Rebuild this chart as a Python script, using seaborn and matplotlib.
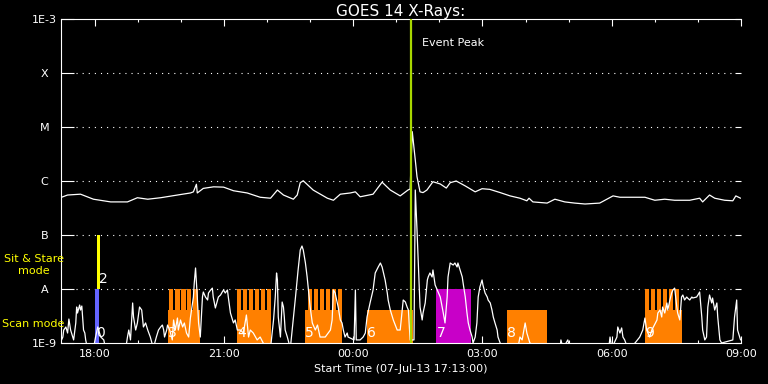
import numpy as np
import pandas as pd
import matplotlib
matplotlib.use("Agg")
import matplotlib.pyplot as plt
import seaborn as sns
from matplotlib.ticker import FixedLocator, MultipleLocator, NullLocator

# ---------------- data (hours relative to 00:00 UT 08-Jul-13) ----------------
long_hours = [-6.77, -6.63, -6.33, -6.03, -5.63, -5.24, -5.01, -4.77, -4.47, -4.08,
              -3.78, -3.71, -3.64, -3.62, -3.48, -3.24, -3.01, -2.78, -2.46, -2.16,
              -1.92, -1.76, -1.62, -1.39, -1.30, -1.23, -1.16, -0.93, -0.60, -0.46,
              -0.30, -0.07, 0.05, 0.16, 0.46, 0.67, 0.86, 1.09, 1.27, 1.32,
              1.37, 1.44, 1.48, 1.55, 1.62, 1.71, 1.85, 2.02, 2.16, 2.25,
              2.39, 2.60, 2.83, 2.99, 3.17, 3.41, 3.64, 3.87, 4.03, 4.08,
              4.17, 4.50, 4.68, 4.91, 5.14, 5.38, 5.72, 6.03, 6.19, 6.54,
              6.77, 7.00, 7.23, 7.46, 7.81, 8.04, 8.11, 8.27, 8.39, 8.62,
              8.81, 8.88, 8.99]
long_flux = [5.0e-7, 5.5e-7, 5.7e-7, 4.6e-7, 4.1e-7, 4.1e-7, 4.9e-7, 4.6e-7, 4.9e-7, 5.5e-7,
             6.0e-7, 6.3e-7, 8.7e-7, 6.0e-7, 7.3e-7, 7.8e-7, 7.7e-7, 6.6e-7, 6.0e-7, 5.0e-7,
             4.8e-7, 6.8e-7, 5.5e-7, 4.6e-7, 5.5e-7, 9.3e-7, 1.01e-6, 6.8e-7, 4.8e-7, 4.4e-7,
             5.7e-7, 6.0e-7, 6.3e-7, 5.1e-7, 5.7e-7, 9.5e-7, 6.8e-7, 5.3e-7, 6.8e-7, 7.1e-7,
             8.2e-6, 2.45e-6, 1.2e-6, 6.3e-7, 6.1e-7, 6.8e-7, 9.7e-7, 8.8e-7, 7.4e-7, 9.3e-7,
             1.0e-6, 8.1e-7, 6.3e-7, 7.2e-7, 7.0e-7, 6.1e-7, 5.3e-7, 4.8e-7, 4.3e-7, 4.8e-7,
             4.1e-7, 3.9e-7, 4.6e-7, 4.1e-7, 3.9e-7, 3.75e-7, 3.9e-7, 5.3e-7, 5.0e-7, 5.0e-7,
             5.0e-7, 4.4e-7, 4.6e-7, 4.4e-7, 4.4e-7, 4.8e-7, 4.1e-7, 5.5e-7, 4.8e-7, 4.4e-7,
             4.3e-7, 5.3e-7, 4.8e-7]

short_hours = [-6.77, -6.74, -6.72, -6.67, -6.63, -6.60, -6.56, -6.51, -6.49, -6.44,
               -6.42, -6.40, -6.35, -6.33, -6.30, -6.26, -6.23, -6.21, -6.17, -6.03,
               -5.98, -5.93, -5.91, -5.86, -5.79, -5.75, -5.28, -5.24, -5.21, -5.17,
               -5.12, -5.10, -5.05, -5.01, -4.96, -4.91, -4.87, -4.82, -4.77, -4.71,
               -4.64, -4.57, -4.52, -4.47, -4.43, -4.40, -4.38, -4.33, -4.31, -4.26,
               -4.20, -4.17, -4.13, -4.08, -4.06, -4.01, -3.96, -3.92, -3.87, -3.82,
               -3.78, -3.71, -3.69, -3.66, -3.62, -3.59, -3.55, -3.50, -3.48, -3.43,
               -3.38, -3.36, -3.31, -3.27, -3.25, -3.20, -3.15, -3.13, -3.08, -3.04,
               -3.01, -2.97, -2.92, -2.90, -2.85, -2.78, -2.74, -2.69, -2.62, -2.55,
               -2.48, -2.43, -2.39, -2.32, -2.23, -2.16, -2.09, -2.02, -1.92, -1.85,
               -1.81, -1.78, -1.76, -1.74, -1.69, -1.65, -1.62, -1.60, -1.58, -1.53,
               -1.46, -1.34, -1.28, -1.23, -1.19, -1.16, -1.11, -1.07, -1.04, -1.00,
               -0.95, -0.88, -0.83, -0.77, -0.65, -0.53, -0.49, -0.46, -0.42, -0.37,
               -0.35, -0.30, -0.26, -0.23, -0.19, -0.14, -0.12, 0.02, 0.05, 0.07,
               0.16, 0.23, 0.28, 0.32, 0.39, 0.46, 0.51, 0.58, 0.63, 0.67,
               0.74, 0.79, 0.81, 0.86, 0.93, 1.02, 1.09, 1.16, 1.21, 1.25,
               1.28, 1.32, 1.41, 1.44, 1.48, 1.51, 1.53, 1.55, 1.60, 1.62,
               1.67, 1.72, 1.74, 1.78, 1.83, 1.85, 1.90, 1.95, 2.02, 2.09,
               2.13, 2.18, 2.20, 2.25, 2.32, 2.36, 2.41, 2.43, 2.48, 2.53,
               2.55, 2.60, 2.64, 2.67, 2.71, 2.76, 2.78, 2.83, 2.87, 2.90,
               2.94, 2.99, 3.01, 3.06, 3.11, 3.13, 3.18, 3.22, 3.25, 3.29,
               3.34, 3.36, 3.41, 3.52, 3.82, 3.87, 3.92, 3.99, 4.03, 4.10,
               4.33, 4.80, 4.82, 4.87, 4.98, 5.03, 5.93, 5.96, 6.00, 6.12,
               6.14, 6.19, 6.23, 6.26, 6.30, 6.37, 6.54, 6.65, 6.72, 6.77,
               6.81, 6.88, 6.93, 7.05, 7.07, 7.12, 7.16, 7.18, 7.23, 7.28,
               7.30, 7.35, 7.39, 7.42, 7.46, 7.51, 7.53, 7.58, 7.62, 7.65,
               7.69, 7.74, 7.76, 7.81, 7.86, 7.88, 7.97, 8.00, 8.04, 8.09,
               8.11, 8.16, 8.20, 8.23, 8.27, 8.32, 8.34, 8.39, 8.44, 8.46,
               8.51, 8.55, 8.81, 8.85, 8.90, 8.92, 8.97, 8.99]
short_flux = [1.14e-9, 1.29e-9, 1.74e-9, 1.98e-9, 1.53e-9, 2.78e-9, 1.74e-9, 1.29e-9, 1.14e-9, 2.35e-9,
              4.64e-9, 3.59e-9, 5.05e-9, 4.08e-9, 4.84e-9, 1.74e-9, 1.53e-9, 1.14e-9, 8e-10, 8e-10,
              1.29e-9, 1.98e-9, 1.74e-9, 1.29e-9, 1.14e-9, 8e-10, 8e-10, 1.29e-9, 1.74e-9, 1.14e-9,
              5.51e-9, 3.03e-9, 1.74e-9, 2.35e-9, 4.64e-9, 4.08e-9, 1.98e-9, 2.35e-9, 1.74e-9, 1.29e-9,
              8e-10, 1.29e-9, 1.74e-9, 1.98e-9, 2.15e-9, 1.74e-9, 1.29e-9, 1.74e-9, 2.15e-9, 1.74e-9,
              1.14e-9, 2.67e-9, 1.74e-9, 2.90e-9, 1.74e-9, 2.67e-9, 1.98e-9, 2.35e-9, 1.53e-9, 1.29e-9,
              2.90e-9, 7.11e-9, 1.29e-8, 2.45e-8, 7.11e-9, 2.35e-9, 1.29e-9, 7.11e-9, 8.80e-9, 7.11e-9,
              6.26e-9, 8.43e-9, 9.58e-9, 1.04e-8, 7.11e-9, 4.45e-9, 6.26e-9, 7.11e-9, 7.74e-9, 8.80e-9,
              9.58e-9, 8.43e-9, 9.58e-9, 7.11e-9, 3.59e-9, 2.35e-9, 2.67e-9, 1.74e-9, 1.74e-9, 1.53e-9,
              3.30e-9, 1.29e-9, 1.74e-9, 1.53e-9, 1.14e-9, 1.29e-9, 1.0e-9, 8e-10, 8e-10, 2.67e-9,
              7.11e-9, 1.98e-8, 1.47e-8, 3.03e-9, 1.29e-9, 5.74e-9, 4.64e-9, 3.03e-9, 1.74e-9, 1.29e-9,
              8e-10, 7.11e-9, 2.25e-8, 5.27e-8, 6.25e-8, 5.27e-8, 3.03e-8, 1.67e-8, 9.58e-9, 4.64e-9,
              2.35e-9, 1.74e-9, 2.15e-9, 1.29e-9, 1.29e-9, 1.74e-9, 2.67e-9, 9.58e-9, 8.43e-9, 5.51e-9,
              4.64e-9, 2.67e-9, 2.35e-9, 1.74e-9, 1.29e-9, 1.53e-9, 1.29e-9, 1.14e-9, 9.58e-9, 1.14e-9,
              1.14e-9, 1.29e-9, 1.53e-9, 3.03e-9, 5.51e-9, 9.58e-9, 1.98e-8, 2.56e-8, 3.03e-8, 2.56e-8,
              1.47e-8, 8.43e-9, 6.26e-9, 4.08e-9, 2.67e-9, 1.74e-9, 1.74e-9, 6.26e-9, 5.74e-9, 4.64e-9,
              4.08e-9, 1.14e-9, 1.14e-9, 6.81e-7, 1.24e-7, 3.03e-8, 1.09e-8, 4.64e-9, 2.67e-9, 3.59e-9,
              5.51e-9, 1.47e-8, 1.67e-8, 1.98e-8, 1.67e-8, 2.25e-8, 1.19e-8, 9.58e-9, 7.11e-9, 3.59e-9,
              2.35e-9, 7.11e-9, 1.67e-8, 3.03e-8, 2.78e-8, 3.03e-8, 2.56e-8, 3.03e-8, 2.25e-8, 1.67e-8,
              1.29e-8, 7.11e-9, 3.59e-9, 2.35e-9, 1.74e-9, 1.29e-9, 1.0e-9, 1.29e-9, 2.35e-9, 7.11e-9,
              1.09e-8, 1.47e-8, 1.19e-8, 8.43e-9, 7.11e-9, 6.26e-9, 5.51e-9, 4.08e-9, 3.03e-9, 2.35e-9,
              1.74e-9, 1.29e-9, 1.0e-9, 8e-10, 8e-10, 1.29e-9, 1.14e-9, 2.35e-9, 1.53e-9, 1.0e-9,
              8e-10, 8e-10, 1.14e-9, 8e-10, 1.14e-9, 8e-10, 8e-10, 1.29e-9, 8e-10, 1.29e-9,
              1.98e-9, 1.53e-9, 1.90e-9, 1.29e-9, 1.14e-9, 8e-10, 1.0e-9, 1.29e-9, 1.74e-9, 2.90e-9,
              1.74e-9, 1.29e-9, 1.74e-9, 2.67e-9, 3.59e-9, 4.08e-9, 3.03e-9, 4.64e-9, 3.59e-9, 5.51e-9,
              4.08e-9, 6.26e-9, 8.43e-9, 9.58e-9, 1.04e-8, 4.64e-9, 3.59e-9, 2.67e-9, 7.11e-9, 7.74e-9,
              6.26e-9, 7.11e-9, 6.81e-9, 6.26e-9, 7.11e-9, 6.81e-9, 7.11e-9, 7.74e-9, 8.80e-9, 3.03e-9,
              1.74e-9, 1.14e-9, 1.29e-9, 4.64e-9, 7.74e-9, 5.51e-9, 6.81e-9, 4.08e-9, 5.51e-9, 3.03e-9,
              1.14e-9, 1.0e-9, 1.14e-9, 3.03e-9, 6.26e-9, 1.74e-9, 1.29e-9, 1.14e-9]

# observation blocks (hours)
scan_labels = ["3", "4", "5", "6", "8", "9"]
scan_start = [-4.31, -2.69, -1.11, 0.32, 3.57, 6.77]
scan_end = [-3.55, -1.90, -0.25, 1.39, 4.50, 7.62]
scan_level = 4.1e-9
scan_teeth = [[-4.28, -4.13, -3.99, -3.86, -3.71],
              [-2.70, -2.56, -2.42, -2.28, -2.14, -2.00],
              [-1.06, -0.92, -0.78, -0.64, -0.50, -0.36],
              [],
              [],
              [6.77, 6.91, 7.05, 7.18, 7.32, 7.46]]
tooth_width = 0.10

other_labels = ["0", "2", "7"]
other_start = [-5.99, -5.94, 1.92]
other_end = [-5.91, -5.88, 2.73]
other_low = [1e-9, 1e-8, 1e-9]
other_high = [1e-8, 1e-7, 1e-8]
other_colors = ["#6464ff", "#ffff00", "#c800c8"]

event_peak = 1.35
level_values = [1e-9, 1e-8, 1e-7, 1e-6, 1e-5, 1e-4, 1e-3]
level_labels = ["1E-9", "A", "B", "C", "M", "X", "1E-3"]
xtick_hours = [-6, -3, 0, 3, 6, 9]
xtick_labels = ["18:00", "21:00", "00:00", "03:00", "06:00", "09:00"]
x_start, x_end = -6.783, 9.0

# ---------------- style ----------------
sns.set_theme(style="dark", rc={
    "axes.facecolor": "black", "figure.facecolor": "black",
    "axes.edgecolor": "white", "text.color": "white",
    "axes.labelcolor": "white", "xtick.color": "white", "ytick.color": "white",
    "lines.scale_dashes": False, "axes.grid": False,
})
plt.rcParams["font.family"] = ["DejaVu Sans"]

fig = plt.figure(figsize=(7.68, 3.84), dpi=100, facecolor="black")
ax = fig.add_axes([61 / 768, 41 / 384, 680 / 768, 324 / 384])
ax.set_facecolor("black")
ax.set_yscale("log")

orange = "#ff8000"
# scan-mode blocks
for s, e in zip(scan_start, scan_end):
    ax.bar(s, scan_level - 1e-9, width=e - s, bottom=1e-9, align="edge",
           color=orange, linewidth=0, zorder=1)
for teeth in scan_teeth:
    for t in teeth:
        ax.bar(t, 1e-8 - 1e-9, width=tooth_width, bottom=1e-9, align="edge",
               color=orange, linewidth=0, zorder=1)
for s, e, lo, hi, c in zip(other_start, other_end, other_low, other_high, other_colors):
    ax.bar(s, hi - lo, width=e - s, bottom=lo, align="edge", color=c,
           linewidth=0, zorder=1)

# dotted level lines
for lv in level_values[1:-1]:
    ax.axhline(lv, xmin=0.022, xmax=0.99, color="white",
               linestyle=(0, (0.8, 3.6)), linewidth=0.8, zorder=0.5)

long_df = pd.DataFrame({"hours": long_hours, "flux": long_flux})
short_df = pd.DataFrame({"hours": short_hours, "flux": short_flux})
sns.lineplot(data=long_df, x="hours", y="flux", ax=ax, color="white",
             linewidth=0.9, zorder=3, estimator=None, sort=False)
sns.lineplot(data=short_df, x="hours", y="flux", ax=ax, color="white",
             linewidth=0.9, zorder=3, estimator=None, sort=False)

ax.axvline(event_peak, color="#a8d800", linewidth=1.6, zorder=4)
ax.annotate("Event Peak", xy=(event_peak, 1e-3), xytext=(7.5, -17),
            textcoords="offset points", ha="left", va="center",
            color="white", fontsize=8)

# block labels
for lab, s in zip(scan_labels, scan_start):
    ax.text(s, 1.12e-9, lab, color="white", fontsize=10,
            ha="left", va="bottom", zorder=5)
for lab, s, lo in zip(other_labels, other_start, other_low):
    ax.text(s + 0.03, lo * 1.12 if lo > 1e-9 else 1.12e-9, lab, color="white",
            fontsize=10, ha="left", va="bottom", zorder=5)

ax.set_xlim(x_start, x_end)
ax.set_ylim(1e-9, 1e-3)
ax.xaxis.set_major_locator(FixedLocator(xtick_hours))
ax.set_xticklabels(xtick_labels)
ax.xaxis.set_minor_locator(MultipleLocator(1))
ax.yaxis.set_major_locator(FixedLocator(level_values))
ax.yaxis.set_minor_locator(NullLocator())
ax.set_yticklabels(level_labels)
for lbl in ax.get_yticklabels():
    lbl.set_horizontalalignment("center")

ax.tick_params(axis="x", which="major", direction="in", length=5, width=0.8,
               top=True, bottom=True, labelsize=8, pad=4)
ax.tick_params(axis="x", which="minor", direction="in", length=2.5, width=0.8,
               top=True, bottom=True)
ax.tick_params(axis="y", which="major", direction="in", length=9.5, width=0.8,
               left=True, right=False, labelsize=8, pad=12)

axr = ax.twinx()
axr.set_yscale("log")
axr.set_ylim(1e-9, 1e-3)
axr.yaxis.set_major_locator(FixedLocator(level_values))
axr.yaxis.set_minor_locator(NullLocator())
axr.tick_params(axis="y", which="major", direction="in", length=4.5, width=0.8,
                right=True, labelright=False)
for sp in axr.spines.values():
    sp.set_visible(False)

for name, sp in ax.spines.items():
    sp.set_color("white")
    sp.set_linewidth(0.8)
ax.spines["right"].set_visible(False)

ax.set_xlabel("Start Time (07-Jul-13 17:13:00)", fontsize=8, labelpad=4)
ax.set_ylabel("")
ax.set_title("GOES 14 X-Rays:", fontsize=11, color="white", pad=2)

fig.text(34 / 768, 1 - 259 / 384, "Sit & Stare", color="yellow", fontsize=8,
         ha="center", va="center")
fig.text(34 / 768, 1 - 271 / 384, "mode", color="yellow", fontsize=8,
         ha="center", va="center")
fig.text(2 / 768, 1 - 324 / 384, "Scan mode", color="yellow", fontsize=8,
         ha="left", va="center")

fig.savefig("out.png", dpi=100, facecolor="black")
